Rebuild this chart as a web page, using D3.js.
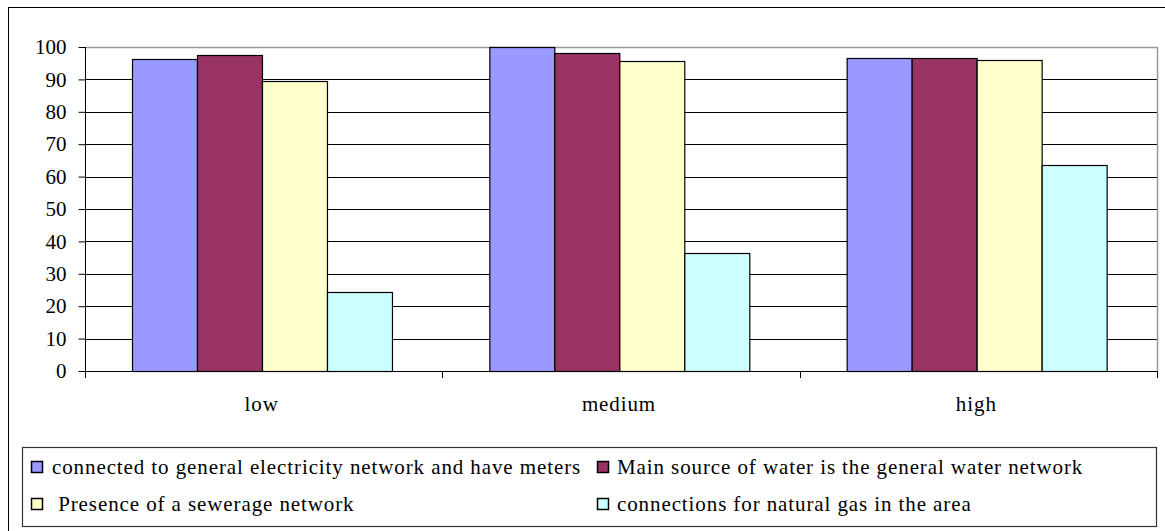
<!DOCTYPE html>
<html>
<head>
<meta charset="utf-8">
<script src="https://cdn.jsdelivr.net/npm/d3@7"></script>
<style>
  html, body { margin: 0; padding: 0; background: #fff; }
  svg { display: block; }
</style>
</head>
<body>
<svg id="chart" width="1165" height="531"></svg>
<script>
const categories = ["low", "medium", "high"];
const seriesNames = [
  "connected to general electricity network and have meters",
  "Main source of water is the general water network",
  " Presence of a sewerage network",
  "connections for natural gas in the area"
];
const electricity = [96.2, 99.9, 96.7];
const water = [97.5, 98.0, 96.7];
const sewerage = [89.5, 95.6, 96.1];
const gas = [24.5, 36.3, 63.5];
const yTicks = [0, 10, 20, 30, 40, 50, 60, 70, 80, 90, 100];
const colors = ["#9999FF", "#993366", "#FFFFCC", "#CCFFFF"];

const seriesValues = [electricity, water, sewerage, gas];
const FONT = "Liberation Serif";

const svg = d3.select("#chart");
const plot = { left: 85, right: 1157, top: 47, bottom: 371 };

// outer chart border (extends beyond the viewport on right/bottom)
svg.append("rect")
  .attr("x", 8.5).attr("y", 7.5)
  .attr("width", 1200).attr("height", 600)
  .attr("fill", "#fff").attr("stroke", "#000").attr("stroke-width", 1);

const x0 = d3.scaleBand().domain(categories).range([plot.left, plot.right]).paddingInner(0).paddingOuter(0);
const x1 = d3.scaleBand().domain(d3.range(seriesNames.length)).range([0, x0.bandwidth()]).paddingInner(0).paddingOuter(0.75);
const y = d3.scaleLinear().domain([0, 100]).range([plot.bottom, plot.top]);

// gridlines
svg.append("g").selectAll("line")
  .data(yTicks.filter(t => t > 0 && t < 100))
  .join("line")
  .attr("x1", plot.left).attr("x2", plot.right)
  .attr("y1", d => Math.round(y(d)) + 0.5).attr("y2", d => Math.round(y(d)) + 0.5)
  .attr("stroke", "#000").attr("stroke-width", 1);

// plot area top/right border (gray)
svg.append("path")
  .attr("d", `M${plot.left},${plot.top + 0.5}H${plot.right + 0.5}V${plot.bottom}`)
  .attr("fill", "none").attr("stroke", "#999").attr("stroke-width", 1.5);

// bars
const rows = categories.map((c, i) => ({ cat: c, vals: seriesValues.map(s => s[i]) }));
const groups = svg.append("g").selectAll("g")
  .data(rows).join("g")
  .attr("transform", d => `translate(${x0(d.cat)},0)`);
groups.selectAll("rect")
  .data(d => d.vals.map((v, k) => ({ k, v })))
  .join("rect")
  .attr("x", d => Math.round(x1(d.k)) - 1.5)
  .attr("y", d => Math.round(y(d.v)) + 0.5)
  .attr("width", x1.bandwidth())
  .attr("height", d => y(0) - Math.round(y(d.v)))
  .attr("fill", d => colors[d.k])
  .attr("stroke", "#000").attr("stroke-width", 1.2);

// y axis
const yAxis = d3.axisLeft(y).tickValues(yTicks).tickSize(7).tickPadding(12).tickFormat(d3.format("d"));
const gy = svg.append("g").attr("transform", `translate(${plot.left + 0.5},0)`).call(yAxis);
gy.attr("font-family", FONT).attr("font-size", 21);
gy.select(".domain").attr("stroke", "#000").attr("d", `M0,${plot.top}V${plot.bottom}`);
gy.selectAll(".tick line").attr("stroke", "#000");
gy.selectAll(".tick text").attr("font-family", FONT).attr("font-size", 21).attr("fill", "#000");

// x axis: ticks at category boundaries
const xAxisG = svg.append("g").attr("font-family", FONT).attr("font-size", 21);
xAxisG.append("line")
  .attr("x1", plot.left).attr("x2", plot.right + 1)
  .attr("y1", plot.bottom + 0.5).attr("y2", plot.bottom + 0.5)
  .attr("stroke", "#000");
const boundaries = categories.map(c => x0(c)).concat([x0(categories[categories.length - 1]) + x0.bandwidth()]);
xAxisG.selectAll("line.b").data(boundaries).join("line").attr("class", "b")
  .attr("x1", d => Math.round(d) + 0.5).attr("x2", d => Math.round(d) + 0.5)
  .attr("y1", plot.bottom).attr("y2", plot.bottom + 7)
  .attr("stroke", "#000");
xAxisG.selectAll("text").data(categories).join("text")
  .attr("x", d => x0(d) + x0.bandwidth() / 2 - 2)
  .attr("y", 411)
  .attr("text-anchor", "middle")
  .attr("letter-spacing", 0.9)
  .text(d => d);

// legend
const legend = svg.append("g").attr("font-family", FONT).attr("font-size", 21);
legend.append("rect")
  .attr("x", 22.5).attr("y", 447.5).attr("width", 1134).attr("height", 79)
  .attr("fill", "#fff").attr("stroke", "#333").attr("stroke-width", 1.2);
const legPos = [
  { sx: 31, tx: 52, cy: 467 },
  { sx: 597, tx: 617, cy: 467 },
  { sx: 31, tx: 52, cy: 504 },
  { sx: 597, tx: 617, cy: 504 }
];
const items = legend.selectAll("g").data(seriesNames).join("g");
items.append("rect")
  .attr("x", (d, i) => legPos[i].sx + 0.5)
  .attr("y", (d, i) => legPos[i].cy - 6 + 0.5)
  .attr("width", 11).attr("height", 11)
  .attr("fill", (d, i) => colors[i])
  .attr("stroke", "#000").attr("stroke-width", 1.5);
items.append("text")
  .attr("x", (d, i) => legPos[i].tx)
  .attr("y", (d, i) => legPos[i].cy)
  .attr("dy", "0.35em")
  .attr("letter-spacing", 0.9)
  .style("white-space", "pre")
  .text(d => d);
</script>
</body>
</html>
